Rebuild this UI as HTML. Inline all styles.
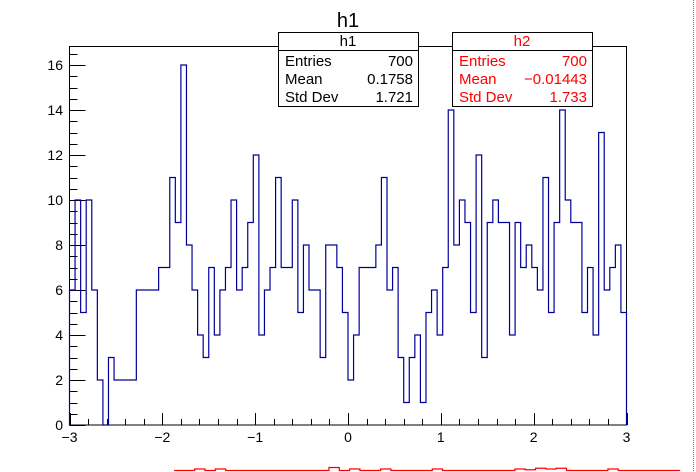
<!DOCTYPE html>
<html><head><meta charset="utf-8"><style>
html,body{margin:0;padding:0;background:#fff;}
svg{display:block;font-family:"Liberation Sans",sans-serif;}
</style></head><body>
<svg id="c" width="696" height="472" viewBox="0 0 696 472">
<rect x="0" y="0" width="696" height="472" fill="#fff"/>
<line x1="693.5" y1="0" x2="693.5" y2="472" stroke="#777" stroke-width="1" stroke-dasharray="1,1"/>
<text x="348" y="27" font-size="20" text-anchor="middle">h1</text>
<rect x="69.5" y="46.5" width="557" height="378.5" fill="none" stroke="#000" stroke-width="1"/>
<g id="axes"></g>
<path id="h1path" fill="none" stroke="#000099" stroke-width="1.2"/>
<path id="h2path" fill="none" stroke="#ff0000" stroke-width="1.2"/>
<g>
<rect x="278.5" y="32.5" width="140" height="74" fill="#fff" stroke="#000" stroke-width="1"/>
<line x1="278.5" y1="50.5" x2="418.5" y2="50.5" stroke="#000"/>
<text x="348" y="46" font-size="15" text-anchor="middle">h1</text>
<text x="285" y="66" font-size="15">Entries</text><text x="413" y="66" font-size="15" text-anchor="end">700</text>
<text x="285" y="84" font-size="15">Mean</text><text x="413" y="84" font-size="15" text-anchor="end">0.1758</text>
<text x="285" y="102" font-size="15">Std Dev</text><text x="413" y="102" font-size="15" text-anchor="end">1.721</text>
</g>
<g fill="#ff0000">
<rect x="452.5" y="32.5" width="140" height="74" fill="#fff" stroke="#000" stroke-width="1"/>
<line x1="452.5" y1="50.5" x2="592.5" y2="50.5" stroke="#000"/>
<text x="522" y="46" font-size="15" text-anchor="middle">h2</text>
<text x="459" y="66" font-size="15">Entries</text><text x="587" y="66" font-size="15" text-anchor="end">700</text>
<text x="459" y="84" font-size="15">Mean</text><text x="587" y="84" font-size="15" text-anchor="end">−0.01443</text>
<text x="459" y="102" font-size="15">Std Dev</text><text x="587" y="102" font-size="15" text-anchor="end">1.733</text>
</g>
</svg>
<script>
const h1Counts = [6,10,5,10,6,2,0,3,2,2, 2,2,6,6,6,6,7,7,11,9, 16,8,6,4,3,7,4,6,7,10, 6,7,9,12,4,6,7,11,7,7, 10,5,8,6,6,3,8,8,7,5, 2,4,7,7,7,8,11,6,7,3, 1,3,4,1,5,6,4,7,14,8, 10,9,5,12,3,9,10,9,9,4, 9,7,8,7,6,11,5,9,14,10, 9,9,5,7,4,13,6,7,8,5];
const xTicks = [-3,-2,-1,0,1,2,3];
const yTicks = [0,2,4,6,8,10,12,14,16];
const h2Bumps = [0,0,1,0,1,0,0,0,0,0, 0,0,0,0,0,2,0,1,0,0, 1,0,0,0,0,1,0,0,0,0, 0,0,0,1,0.5,1.5,1,1.5,0,0, 0,0,1,0,0,0,0,0,0];
const xMin=-3,xMax=3,yMax=16.8;
const X0=69.5,X1=626.5,Y0=425,Y1=46.5;
function sx(v){return X0+(v-xMin)/(xMax-xMin)*(X1-X0);}
function sy(v){return Y0-v*22.5;}
const NS="http://www.w3.org/2000/svg";
const ax=document.getElementById('axes');
function ln(x1,y1,x2,y2,name){const l=document.createElementNS(NS,'line');l.setAttribute('x1',x1);l.setAttribute('y1',y1);l.setAttribute('x2',x2);l.setAttribute('y2',y2);l.setAttribute('stroke','#000');l.setAttribute('stroke-width','1');


ax.appendChild(l);}
function tx(x,y,s,anchor,name){const t=document.createElementNS(NS,'text');t.setAttribute('x',x);t.setAttribute('y',y);t.setAttribute('font-size','14');t.setAttribute('text-anchor',anchor);t.textContent=s;


ax.appendChild(t);}
function lab(v){return v<0?'−'+Math.abs(v):String(v);}
for(let i=0;i<xTicks.length;i++){const v=xTicks[i];const x=Math.round(sx(v))+0.5;ln(x,Y0,x,Y0-12,'x-major-tick');tx(sx(v),442,lab(v),'middle','x-tick-label');
 if(i<xTicks.length-1){for(let k=1;k<5;k++){const xm=Math.round(sx(v+k*0.2))+0.5;ln(xm,Y0,xm,Y0-6,'x-minor-tick');}}}
for(let i=0;i<yTicks.length;i++){const v=yTicks[i];const y=Math.round(sy(v))+0.5;ln(X0,y,X0+16,y,'y-major-tick');tx(63,sy(v)+5,lab(v),'end','y-tick-label');
 for(let k=1;k<4;k++){const vm=v+k*0.5;if(vm<=yMax){const ym=Math.round(sy(vm))+0.5;ln(X0,ym,X0+8,ym,'y-minor-tick');}}}
const n=h1Counts.length,bw=(xMax-xMin)/n;let d='M'+sx(xMin)+','+sy(0);
for(let i=0;i<n;i++){d+=' L'+sx(xMin+i*bw)+','+sy(h1Counts[i])+' L'+sx(xMin+(i+1)*bw)+','+sy(h1Counts[i]);}
d+=' L'+sx(xMax)+','+sy(0);
document.getElementById('h1path').setAttribute('d',d);
let d2='';const bx0=174,bw2=10.33,base=470.5;
for(let i=0;i<h2Bumps.length;i++){const y=base-h2Bumps[i]*1.5;d2+=(i?' L':'M')+(bx0+i*bw2)+','+y+' L'+(bx0+(i+1)*bw2)+','+y;}
document.getElementById('h2path').setAttribute('d',d2);
</script>
</body></html>
